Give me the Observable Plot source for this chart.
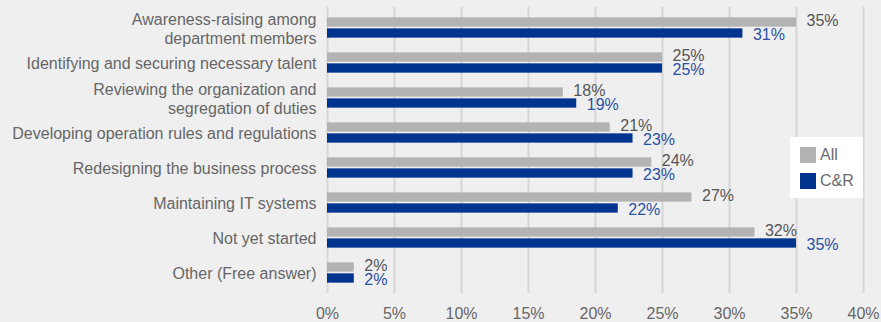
<!DOCTYPE html>
<html>
<head>
<meta charset="utf-8">
<script src="https://cdn.jsdelivr.net/npm/d3@7"></script>
<script src="https://cdn.jsdelivr.net/npm/@observablehq/plot@0.6"></script>
<style>
  html, body { margin: 0; padding: 0; background: #efefef; }
  #wrap { position: relative; width: 881px; height: 322px; font-family: "Liberation Sans", Arial, sans-serif; }
  #legend { position: absolute; left: 790px; top: 137px; width: 73px; height: 61px; background: #ffffff; }
  .sw { position: absolute; left: 10px; width: 16px; height: 16px; }
  .lt { position: absolute; left: 30px; font-size: 16px; color: #6b6b6b; line-height: 16px; }
</style>
</head>
<body>
<div id="wrap"></div>
<script>
const categories = [
  "Awareness-raising among\ndepartment members",
  "Identifying and securing necessary talent",
  "Reviewing the organization and\nsegregation of duties",
  "Developing operation rules and regulations",
  "Redesigning the business process",
  "Maintaining IT systems",
  "Not yet started",
  "Other (Free answer)"
];
const seriesNames = ["All", "C&R"];
const allValues = [35, 25, 17.6, 21.1, 24.2, 27.2, 31.9, 2];
const crValues = [31, 25, 18.6, 22.8, 22.8, 21.7, 35, 2];
const xTicks = [0, 5, 10, 15, 20, 25, 30, 35, 40];
const colors = { "All": "#b3b3b3", "C&R": "#00348f" };
const labelColors = { "All": "#555555", "C&R": "#2a4fa3" };

const allData = categories.map((c, i) => ({ category: c, value: allValues[i], series: "All" }));
const crData = categories.map((c, i) => ({ category: c, value: crValues[i], series: "C&R" }));

const bandH = 285.6 / categories.length;
const barH = 10.5;
const half = bandH / 2;

const chart = Plot.plot({
  width: 881,
  height: 322,
  marginLeft: 327,
  marginRight: 18,
  marginTop: 7,
  marginBottom: 29,
  style: { background: "transparent", fontFamily: "Liberation Sans, Arial, sans-serif" },
  x: { domain: [0, 40], ticks: xTicks, tickFormat: d => d + "%", label: null },
  y: { domain: categories, padding: 0, label: null },
  marks: [
    Plot.gridX(xTicks, { stroke: "#d6d6d6", strokeOpacity: 1, strokeWidth: 2 }),
    Plot.barX(allData, { x: "value", y: "category", fill: colors["All"], insetTop: half - barH, insetBottom: half + 0.5 }),
    Plot.barX(crData, { x: "value", y: "category", fill: colors["C&R"], insetTop: half + 0.5, insetBottom: half - barH }),
    Plot.text(allData, { x: "value", y: "category", text: d => Math.round(d.value) + "%", dx: 10, dy: -7.5, textAnchor: "start", fill: labelColors["All"], fontSize: 16 }),
    Plot.text(crData, { x: "value", y: "category", text: d => Math.round(d.value) + "%", dx: 10, dy: 7, textAnchor: "start", fill: labelColors["C&R"], fontSize: 16 }),
    Plot.axisY({ tickSize: 0, tickPadding: 11, fontSize: 16, fill: "#666666", lineHeight: 1.2, label: null }),
    Plot.axisX(xTicks, { tickSize: 0, tickPadding: 14, fontSize: 16, fill: "#666666", tickFormat: d => d + "%", label: null })
  ]
});
const wrap = document.getElementById("wrap");
wrap.appendChild(chart);

const legend = document.createElement("div");
legend.id = "legend";
seriesNames.forEach((s, i) => {
  const sw = document.createElement("div");
  sw.className = "sw";
  sw.style.top = (10 + i * 26) + "px";
  sw.style.background = colors[s];
  const t = document.createElement("div");
  t.className = "lt";
  t.style.top = (10 + i * 26) + "px";
  t.textContent = s;
  legend.appendChild(sw);
  legend.appendChild(t);
});
wrap.appendChild(legend);
</script>
</body>
</html>
